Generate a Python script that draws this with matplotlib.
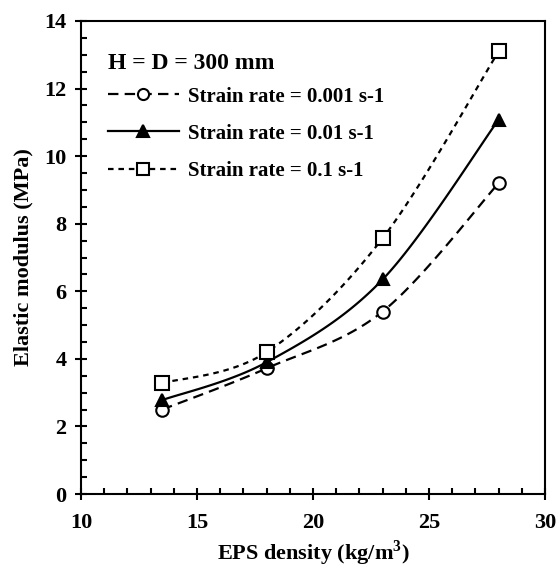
import numpy as np
import matplotlib
matplotlib.use("Agg")
from matplotlib import pyplot as plt
from matplotlib.lines import Line2D
from matplotlib.ticker import MultipleLocator

plt.rcParams['font.family'] = ['Liberation Serif', 'DejaVu Serif']
plt.rcParams['font.weight'] = 'bold'
plt.rcParams['mathtext.fontset'] = 'custom'
plt.rcParams['mathtext.rm'] = 'Liberation Serif:bold'
plt.rcParams['mathtext.bf'] = 'Liberation Serif:bold'
plt.rcParams['lines.scale_dashes'] = False

# data
density = [13.5, 18, 23, 28]
e_low = [2.5, 3.72, 5.4, 9.2]      # strain rate 0.001 s-1
e_mid = [2.78, 3.9, 6.35, 11.08]   # strain rate 0.01 s-1
e_high = [3.28, 4.2, 7.57, 13.1]   # strain rate 0.1 s-1
labels = ['Strain rate = 0.001 s-1', 'Strain rate = 0.01 s-1', 'Strain rate = 0.1 s-1']
legend_title = 'H = D = 300 mm'


def smooth(x, y, n=40):
    """Excel-like smoothed line (Catmull-Rom as cubic Bezier) through the points"""
    p = np.column_stack([x, y]).astype(float)
    ext = np.vstack([p[0], p, p[-1]])
    t = np.linspace(0, 1, n)[:, None]
    out = []
    for i in range(len(p) - 1):
        p0, p1, p2, p3 = ext[i], ext[i + 1], ext[i + 2], ext[i + 3]
        c1 = p1 + (p2 - p0) / 6.0
        c2 = p2 - (p3 - p1) / 6.0
        seg = ((1 - t) ** 3) * p1 + 3 * ((1 - t) ** 2) * t * c1 + 3 * (1 - t) * t ** 2 * c2 + t ** 3 * p2
        out.append(seg if i == 0 else seg[1:])
    seg = np.vstack(out)
    return seg[:, 0], seg[:, 1]


fig = plt.figure(figsize=(5.57, 5.69), dpi=100)
ax = fig.add_axes([0.1454, 0.1318, 0.8331, 0.8313])

styles = [
    dict(dashes=(7.5, 4.5), marker='o', mfc='white', ms=9),
    dict(dashes=(), marker='^', mfc='black', ms=9),
    dict(dashes=(4, 3.5), marker='s', mfc='white', ms=10),
]
handles = []
for ys, st, lab in zip([e_low, e_mid, e_high], styles, labels):
    sx, sy = smooth(density, ys)
    ln, = ax.plot(sx, sy, color='black', lw=1.6)
    if st['dashes']:
        ln.set_dashes(st['dashes'])
    ax.plot(density, ys, ls='none', marker=st['marker'], mfc=st['mfc'], mec='black',
            mew=1.5, ms=st['ms'], zorder=3)
    h = Line2D([], [], color='black', lw=1.6, marker=st['marker'], mfc=st['mfc'],
               mec='black', mew=1.5, ms=st['ms'] - 1)
    if st['dashes']:
        h.set_dashes(st['dashes'])
    handles.append(h)

ax.set_xlim(10, 30)
ax.set_ylim(0, 14)
ax.xaxis.set_major_locator(MultipleLocator(5))
ax.xaxis.set_minor_locator(MultipleLocator(1))
ax.yaxis.set_major_locator(MultipleLocator(2))
ax.yaxis.set_minor_locator(MultipleLocator(0.5))
ax.tick_params(which='major', direction='inout', length=9, width=1.5, labelsize=16)
ax.tick_params(axis='x', which='major', pad=9)
ax.tick_params(axis='y', which='major', pad=6)
ax.tick_params(which='minor', direction='in', length=4.5, width=1.5)
for s in ax.spines.values():
    s.set_linewidth(1.5)

ax.set_xlabel('EPS density (kg/m$^{3}$)', fontsize=16, fontweight='bold', labelpad=4)
ax.set_ylabel('Elastic modulus (MPa)', fontsize=16, fontweight='bold', labelpad=8)

leg = ax.legend(handles, labels, title=legend_title, loc='upper left',
                bbox_to_anchor=(0.058, 0.932), frameon=False, fontsize=15,
                title_fontproperties={'weight': 'bold', 'size': 17},
                alignment='left', handlelength=3.4, handletextpad=0.45,
                labelspacing=0.82, borderpad=0, borderaxespad=0)
leg._legend_box.sep = 9

fig.savefig('out.png', dpi=100)
